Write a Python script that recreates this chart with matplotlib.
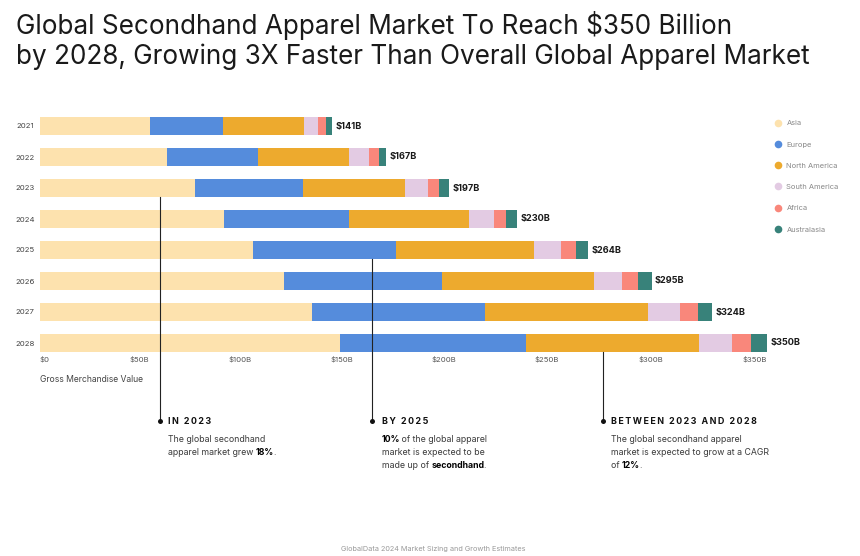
import matplotlib
matplotlib.use('Agg')
import matplotlib.pyplot as plt
from matplotlib.lines import Line2D

plt.rcParams['font.family'] = ['Inter', 'DejaVu Sans']

W, H = 860, 556

years = ['2021', '2022', '2023', '2024', '2025', '2026', '2027', '2028']
regions = ['Asia', 'Europe', 'North America', 'South America', 'Africa', 'Australasia']
colors = ['#fde2ae', '#558cdc', '#edaa2e', '#e3cbe3', '#f9877b', '#38827a']

asia = [53, 61, 74.6, 88.6, 102.7, 117.3, 131.1, 144.6]
europe = [35, 44, 51.9, 60.2, 68.7, 76.1, 83.3, 89.5]
north_america = [39, 44, 49.2, 57.7, 66.3, 73.2, 78.5, 83]
south_america = [7, 9.6, 11.3, 12.1, 13.1, 13.5, 15.2, 16.1]
africa = [3.7, 4.4, 5, 5.8, 7.2, 8, 8.5, 9.1]
australasia = [3, 3.8, 4.9, 5.3, 5.7, 6.4, 6.8, 7.6]
totals = ['$141B', '$167B', '$197B', '$230B', '$264B', '$295B', '$324B', '$350B']

tick_labels = ['$0', '$50B', '$100B', '$150B', '$200B', '$250B', '$300B', '$350B']
# the labels are spread out evenly, not centred on the real values
tick_pos = [2.2, 47.7, 96.3, 145.4, 194.5, 244, 294, 344]

series = [asia, europe, north_america, south_america, africa, australasia]

fig = plt.figure(figsize=(W / 100, H / 100), dpi=100)
ax = fig.add_axes([40 / W, 1 - 358.5 / H, 727 / W, 248 / H])

left = [0] * len(years)
for vals, c, name in zip(series, colors, regions):
    ax.barh(years, vals, height=0.57, left=left, color=c, label=name, linewidth=0)
    left = [a + b for a, b in zip(left, vals)]

ax.set_xlim(0, 350)
ax.set_ylim(7.5, -0.5)
for s in ax.spines.values():
    s.set_visible(False)
ax.set_xticks(tick_pos, tick_labels)
ax.tick_params(axis='x', length=0, pad=-2, labelsize=5.6, labelcolor='#555555')
ax.tick_params(axis='y', length=0, pad=4, labelsize=5.6, labelcolor='#444444')

for i, t in enumerate(totals):
    ax.text(left[i] + 1.6, i, t, va='center', ha='left', fontsize=6.6,
            fontweight='bold', color='#1a1a1a')


def px(x, y):
    return x / W, 1 - y / H


def ftext(x, y, s, **kw):
    xx, yy = px(x, y)
    kw.setdefault('va', 'center')
    return fig.text(xx, yy, s, **kw)


def runs(x, y, parts, size=6.3):
    # normal and bold pieces on one line
    r = fig.canvas.get_renderer()
    for s, bold in parts:
        t = ftext(x, y, s, fontsize=size, color='#000000' if bold else '#3a3a3a',
                  fontweight='bold' if bold else 'normal')
        x += t.get_window_extent(r).width - (1 if bold else 0)


ftext(16, 25, 'Global Secondhand Apparel Market To Reach $350 Billion', fontsize=18.8, color='#1a1a1a')
ftext(16, 57, 'by 2028, Growing 3X Faster Than Overall Global Apparel Market', fontsize=18.8, color='#1a1a1a')

ftext(40, 379, 'Gross Merchandise Value', fontsize=6.2, color='#444444')

# callout lines run over the bars
for x, top in [(160, 197), (372, 259), (603, 352)]:
    x0, y0 = px(x, top)
    x1, y1 = px(x, 421)
    fig.add_artist(Line2D([x0, x1], [y0, y1], color='#222222', lw=0.8))
    fig.add_artist(Line2D([x1], [y1], marker='o', ms=3.6, color='#111111', mew=0))

hair = '\u200a'
for x, head in [(168, 'IN 2023'), (382, 'BY 2025'), (611, 'BETWEEN 2023 AND 2028')]:
    ftext(x, 421.5, (hair * 2).join(head), fontsize=6.4, fontweight='bold', color='#111111')

runs(168, 439, [('The global secondhand', False)])
runs(168, 452.5, [('apparel market grew ', False), ('18%', True), ('.', False)])
runs(382, 439, [('10%', True), (' of the global apparel', False)])
runs(382, 452.5, [('market is expected to be', False)])
runs(382, 466, [('made up of ', False), ('secondhand', True), ('.', False)])
runs(611, 439, [('The global secondhand apparel', False)])
runs(611, 452.5, [('market is expected to grow at a CAGR', False)])
runs(611, 466, [('of ', False), ('12%', True), ('.', False)])

handles = [Line2D([], [], marker='o', ls='', ms=5.5, color=c, mew=0, label=n)
           for c, n in zip(colors, regions)]
leg_x, leg_y = px(770, 120)
fig.legend(handles=handles, loc='upper left', bbox_to_anchor=(leg_x, leg_y), frameon=False,
           fontsize=5.4, labelcolor='#888888', labelspacing=2.0, handletextpad=0.2,
           borderpad=0, borderaxespad=0)

ftext(433, 549, 'GlobalData 2024 Market Sizing and Growth Estimates', fontsize=5.25,
      color='#999999', ha='center')

fig.savefig('out.png', dpi=100)
